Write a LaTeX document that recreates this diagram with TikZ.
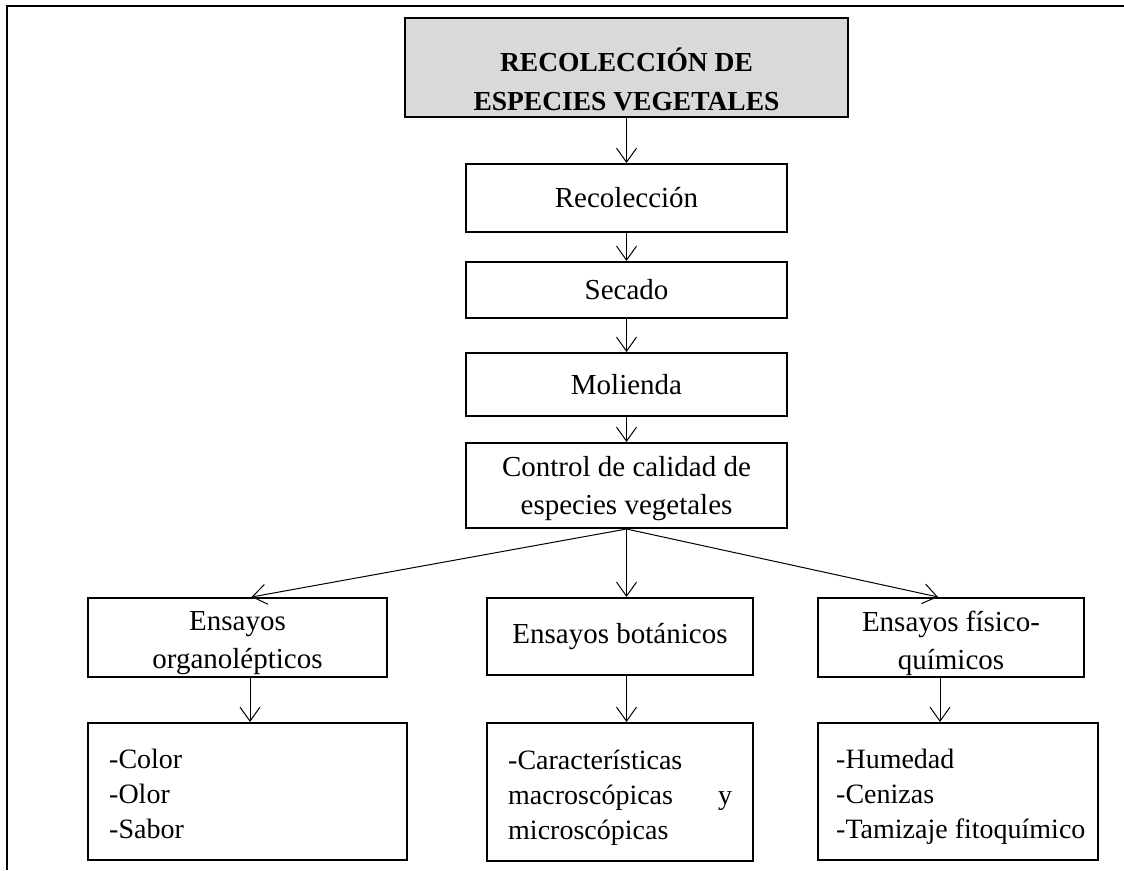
\documentclass[tikz,border=0pt]{standalone}
\usepackage{fontspec}
\setmainfont{Liberation Serif}
\usetikzlibrary{arrows.meta}
\begin{document}
\begin{tikzpicture}[x=1pt,y=-1pt,
  box/.style={draw, line width=2pt, inner sep=0pt, align=center,
    font=\fontsize{29}{36}\selectfont},
  titlebox/.style={box, fill=black!15},
  txt/.style={inner sep=0pt, align=center, font=\fontsize{29}{38}\selectfont},
  titletxt/.style={txt, font=\fontsize{27.5}{39}\selectfont\bfseries},
  listbox/.style={inner sep=0pt, align=flush left, text width=#1,
    font=\fontsize{28}{35}\selectfont},
  arr/.style={-{Straight Barb[length=14pt,width=20pt]}, line width=1pt},
  frame/.style={line width=2.5pt}
]
\useasboundingbox (0,0) rectangle (1124,870);
\coordinate (fa) at (7,870);
\coordinate (fb) at (7,6);
\coordinate (fc) at (1124,6);
\draw[frame] (fa) -- (fb) -- (fc);

\node[titlebox, minimum width=443pt, minimum height=99pt] (title) at (626.5,67.5) {};
\node[titletxt] (titleT) at (626.5,79) {RECOLECCIÓN DE\\ESPECIES VEGETALES};
\node[box, minimum width=321pt, minimum height=68pt] (rec) at (626.5,198) {Recolección};
\node[box, minimum width=321pt, minimum height=56pt] (sec) at (626.5,290) {Secado};
\node[box, minimum width=321pt, minimum height=63pt] (mol) at (626.5,384.5) {Molienda};
\node[box, minimum width=321pt, minimum height=85pt] (ctrl) at (626.5,485.5) {};
\node[txt] (ctrlT) at (626.5,489) {Control de calidad de\\especies vegetales};

\node[box, minimum width=299pt, minimum height=79pt] (org) at (237.5,637.5) {};
\node[txt] (orgT) at (237.5,643) {Ensayos\\organolépticos};
\node[box, minimum width=266pt, minimum height=77pt] (bot) at (620,636.5)
  {Ensayos botánicos};
\node[box, minimum width=266pt, minimum height=79pt] (fis) at (951,637.5) {};
\node[txt] (fisT) at (951,643) {Ensayos físico-\\químicos};

\node[box, minimum width=319pt, minimum height=137pt] (orgL) at (247.5,791.5) {};
\node[box, minimum width=266pt, minimum height=138pt] (botL) at (620,792) {};
\node[box, minimum width=280pt, minimum height=137pt] (fisL) at (958,791.5) {};

\node[listbox=280pt, anchor=west] (orgLT) at ([xshift=22pt,yshift=-5pt]orgL.west)
  {\strut-Color\\-Olor\\-Sabor\strut};
\node[listbox=224pt, anchor=west] (botLT) at ([xshift=22pt,yshift=-5pt]botL.west)
  {\strut-Características\\macroscópicas\hfill y\\microscópicas\strut};
\node[listbox=260pt, anchor=west] (fisLT) at ([xshift=19pt,yshift=-5pt]fisL.west)
  {\strut-Humedad\\-Cenizas\\-Tamizaje fitoquímico\strut};

\draw[arr] (title.south) -- (rec.north);
\draw[arr] (rec.south) -- (sec.north);
\draw[arr] (sec.south) -- (mol.north);
\draw[arr] (mol.south) -- (ctrl.north);
\draw[arr] (ctrl.south) -- ([xshift=14pt]org.north);
\draw[arr] (ctrl.south) -- (bot.north -| ctrl.south);
\draw[arr] (ctrl.south) -- ([xshift=-13pt]fis.north);
\draw[arr] ([xshift=12.5pt]org.south) -- ([xshift=2.5pt]orgL.north);
\draw[arr] (bot.south -| ctrl.south) -- (botL.north -| ctrl.south);
\draw[arr] ([xshift=-11pt]fis.south) -- ([xshift=-18pt]fisL.north);
\end{tikzpicture}
\end{document}
